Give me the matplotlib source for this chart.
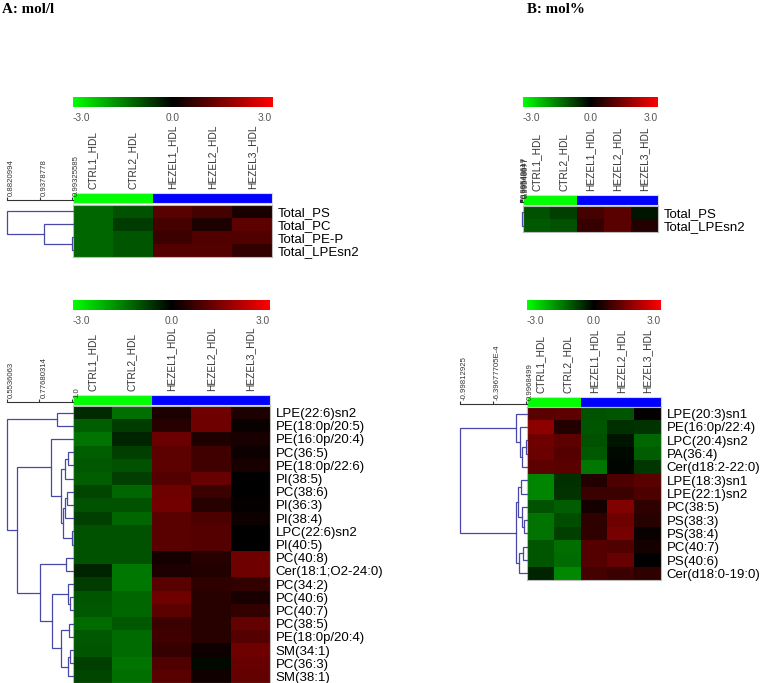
import numpy as np
import matplotlib
matplotlib.use('Agg')
import matplotlib.pyplot as plt
import matplotlib.transforms as mtransforms
from matplotlib.colors import LinearSegmentedColormap, ListedColormap

# samples / groups
samples = ['CTRL1_HDL', 'CTRL2_HDL', 'HEZEL1_HDL', 'HEZEL2_HDL', 'HEZEL3_HDL']
groups = [0, 0, 1, 1, 1]

# A: mol/l, totals
a_top_names = ['Total_PS', 'Total_PC', 'Total_PE-P', 'Total_LPEsn2']
a_top_vals = [[-1.2, -0.95, 1.05, 0.8, 0.3],
              [-1.2, -0.7, 0.8, 0.35, 1.1],
              [-1.2, -1.0, 0.7, 0.95, 0.95],
              [-1.2, -1.0, 1.0, 1.0, 0.6]]
a_top_merges = [(2, 3, 0.99325585), (1, 4, 0.946), (0, 5, 0.8820994)]
a_top_scale = ['0.8820994', '0.9378778', '0.99325585']

# A: mol/l, species
a_bot_names = ['LPE(22:6)sn2', 'PE(18:0p/20:5)', 'PE(16:0p/20:4)', 'PC(36:5)',
               'PE(18:0p/22:6)', 'PI(38:5)', 'PC(38:6)', 'PI(36:3)', 'PI(38:4)',
               'LPC(22:6)sn2', 'PI(40:5)', 'PC(40:8)', 'Cer(18:1;O2-24:0)',
               'PC(34:2)', 'PC(40:6)', 'PC(40:7)', 'PC(38:5)', 'PE(18:0p/20:4)',
               'SM(34:1)', 'PC(36:3)', 'SM(38:1)']
a_bot_vals = [[-0.5, -1.3, 0.35, 1.3, 0.35],
              [-1.1, -0.7, 0.45, 1.3, 0.1],
              [-1.35, -0.4, 1.25, 0.35, 0.3],
              [-1.1, -0.75, 1.1, 0.75, 0.15],
              [-1.05, -0.95, 1.1, 0.75, 0.3],
              [-1.1, -0.75, 1.0, 1.2, 0.0],
              [-0.8, -1.2, 1.3, 0.7, 0.0],
              [-0.95, -0.95, 1.35, 0.45, 0.05],
              [-0.75, -1.2, 1.05, 0.9, 0.15],
              [-0.95, -0.95, 1.05, 1.0, 0.0],
              [-0.95, -0.95, 1.05, 1.0, 0.0],
              [-0.95, -0.95, 0.25, 0.45, 1.3],
              [-0.4, -1.4, 0.35, 0.4, 1.3],
              [-0.7, -1.4, 1.05, 0.55, 0.6],
              [-1.0, -1.2, 1.3, 0.45, 0.3],
              [-1.05, -1.2, 1.1, 0.45, 0.6],
              [-1.25, -1.05, 0.7, 0.45, 1.15],
              [-1.05, -1.25, 0.75, 0.45, 1.0],
              [-1.0, -1.25, 0.65, 0.15, 1.3],
              [-0.75, -1.35, 0.95, -0.1, 1.2],
              [-0.8, -1.3, 1.05, 0.2, 1.15]]
a_bot_merges = [(0, 1, 0.898), (9, 10, 1.0), (3, 4, 0.973), (23, 5, 0.953),
                (6, 7, 0.966), (25, 8, 0.953), (26, 22, 0.939), (24, 27, 0.926),
                (2, 28, 0.858), (11, 12, 0.959), (14, 15, 0.986), (13, 31, 0.973),
                (16, 17, 0.980), (18, 19, 0.986), (34, 20, 0.973), (33, 35, 0.926),
                (32, 36, 0.865), (30, 37, 0.777), (29, 38, 0.621), (21, 39, 0.5536063)]
a_bot_scale = ['0.5536063', '0.77680314', '1.0']

# B: mol%, totals
b_top_names = ['Total_PS', 'Total_LPEsn2']
b_top_vals = [[-0.95, -0.75, 0.8, 1.05, -0.25],
              [-1.05, -0.95, 0.65, 1.05, 0.4]]
b_top_merges = [(0, 1, 0.99546677)]
b_top_scale = ['0.99540617', '0.99543647', '0.99546677']

# B: mol%, species
b_bot_names = ['LPE(20:3)sn1', 'PE(16:0p/22:4)', 'LPC(20:4)sn2', 'PA(36:4)',
               'Cer(d18:2-22:0)', 'LPE(18:3)sn1', 'LPE(22:1)sn2', 'PC(38:5)',
               'PS(38:3)', 'PS(38:4)', 'PC(40:7)', 'PS(40:6)', 'Cer(d18:0-19:0)']
b_bot_vals = [[1.05, 1.1, -0.95, -1.0, 0.05],
              [1.65, 0.4, -1.0, -0.55, -0.6],
              [1.3, 1.1, -0.95, -0.25, -1.2],
              [1.25, 1.0, -1.05, -0.1, -1.1],
              [1.1, 1.05, -1.4, -0.05, -0.65],
              [-1.55, -0.55, 0.4, 0.9, 1.05],
              [-1.55, -0.6, 0.7, 0.7, 0.9],
              [-0.95, -1.1, 0.25, 1.5, 0.55],
              [-1.35, -0.9, 0.55, 1.3, 0.45],
              [-1.35, -0.75, 0.55, 1.4, 0.1],
              [-1.0, -1.3, 1.0, 0.95, 0.25],
              [-1.0, -1.25, 1.0, 1.2, 0.0],
              [-0.4, -1.6, 0.8, 0.7, 0.55]]
b_bot_merges = [(2, 3, 0.9968499), (13, 4, 0.878), (1, 14, 0.818), (0, 15, 0.699),
                (5, 6, 0.848), (8, 9, 0.937), (7, 18, 0.878), (17, 19, 0.759),
                (10, 11, 0.908), (21, 12, 0.788), (20, 22, 0.699),
                (16, 23, -0.99812925)]
b_bot_scale = ['-0.99812925', '-6.39677705E-4', '0.9968499']

plt.rcParams['font.family'] = ['Liberation Sans', 'DejaVu Sans']

W, H = 764, 683
fig = plt.figure(figsize=(W / 100, H / 100), dpi=100)
cmap = LinearSegmentedColormap.from_list('gkr', ['#00ff00', '#000000', '#ff0000'])
group_cmap = ListedColormap(['#00ff00', '#0000ff'])
dend_color = '#4848a8'


def box(x, y, w, h):
    # pixel box (top-left origin) -> figure fraction
    return [x / W, 1 - (y + h) / H, w / W, h / H]


def draw_panel(names, vals, merges, scale, heat, group_y, cbar_y, dend_x):
    n = len(names)
    hx, hy, hw, hh = heat

    # colour bar
    cax = fig.add_axes(box(hx, cbar_y, hw, 10))
    cax.imshow(np.linspace(-3, 3, 256)[None, :], aspect='auto', cmap=cmap,
               vmin=-3, vmax=3, extent=[-3, 3, 0, 1])
    cax.set_yticks([])
    cax.set_xticks([-3, 0, 3], ['-3.0', '0.0', '3.0'])
    lbl = cax.get_xticklabels()
    lbl[0].set_ha('left')
    lbl[2].set_ha('right')
    cax.tick_params(length=0, pad=4, labelsize=7.3, labelcolor='#555555')
    for s in cax.spines.values():
        s.set_visible(False)

    # group bar + sample labels
    gax = fig.add_axes(box(hx, group_y, hw, 10))
    gax.pcolormesh(np.array([groups]), cmap=group_cmap, vmin=0, vmax=1)
    gax.set_xlim(0, len(samples))
    gax.set_ylim(0, 1)
    gax.xaxis.tick_top()
    gax.set_xticks(np.arange(len(samples)) + 0.5, samples, rotation=90)
    gax.set_yticks([])
    gax.tick_params(length=0, pad=3, labelsize=7.3, labelcolor='#333333')
    for s in gax.spines.values():
        s.set_color('#d8d8d8')
        s.set_linewidth(0.8)

    # heatmap
    hax = fig.add_axes(box(*heat))
    hax.pcolormesh(np.array(vals), cmap=cmap, vmin=-3, vmax=3)
    hax.set_xlim(0, len(samples))
    hax.set_ylim(n, 0)
    hax.set_xticks([])
    hax.yaxis.tick_right()
    hax.set_yticks(np.arange(n) + 0.5, names)
    hax.tick_params(length=0, pad=4, labelsize=9.5)
    for s in hax.spines.values():
        s.set_color('#bbbbbb')
        s.set_linewidth(0.8)

    # dendrogram
    vals_s = [float(v) for v in scale]
    lo, hi = vals_s[0], vals_s[-1]
    wpx = hx - dend_x
    step = (hi - lo) / max(wpx - 1, 1)
    xmax = hi + step
    dax = fig.add_axes(box(dend_x, hy, wpx, hh))
    dax.set_xlim(lo, xmax)
    dax.set_ylim(n, 0)
    dax.axis('off')
    xs = {i: xmax for i in range(n)}
    ys = {i: i + 0.5 for i in range(n)}
    for k, (a, b, s) in enumerate(merges):
        dax.plot([xs[a], s, s, xs[b]], [ys[a], ys[a], ys[b], ys[b]],
                 color=dend_color, lw=0.9, solid_joinstyle='miter', clip_on=False)
        xs[n + k] = s
        ys[n + k] = (ys[a] + ys[b]) / 2

    # similarity scale
    sax = fig.add_axes(box(dend_x, group_y - 45 + 7, wpx, 45), sharex=dax)
    for side in ['top', 'left', 'right']:
        sax.spines[side].set_visible(False)
    sax.spines['bottom'].set_color('#333333')
    sax.spines['bottom'].set_linewidth(0.8)
    sax.set_yticks([])
    sax.set_xticks(vals_s)
    sax.tick_params(axis='x', direction='in', length=2.5, width=0.8,
                    color='#333333', labelbottom=False)
    sax.patch.set_visible(False)
    off = mtransforms.offset_copy(sax.transData, fig=fig, x=1, y=4, units='dots')
    for v, t in zip(vals_s, scale):
        sax.text(v, 0, t, rotation=90, ha='left', va='bottom', fontsize=5.6,
                 color='#333333', transform=off)
    sax.set_ylim(0, 1)


draw_panel(a_top_names, a_top_vals, a_top_merges, a_top_scale,
           (73, 205, 199, 52), 193, 97, 7)
draw_panel(a_bot_names, a_bot_vals, a_bot_merges, a_bot_scale,
           (73, 406, 197, 277), 395, 300, 7)
draw_panel(b_top_names, b_top_vals, b_top_merges, b_top_scale,
           (523, 206, 135, 26), 195, 97, 520)
draw_panel(b_bot_names, b_bot_vals, b_bot_merges, b_bot_scale,
           (527, 407, 134, 173), 397, 300, 460)

fig.text(2 / W, 1 - 3 / H, 'A: mol/l', family='Liberation Serif', weight='bold',
         fontsize=10.8, va='top', ha='left')
fig.text(527 / W, 1 - 3 / H, 'B: mol%', family='Liberation Serif', weight='bold',
         fontsize=10.8, va='top', ha='left')

fig.savefig('out.png', dpi=100)
